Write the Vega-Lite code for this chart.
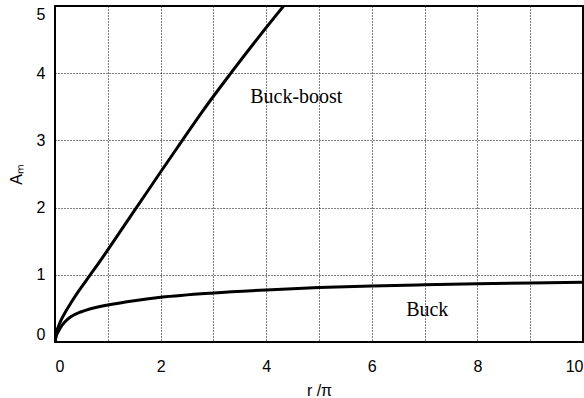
{
  "$schema": "https://vega.github.io/schema/vega-lite/v6.json",
  "width": 528,
  "height": 336,
  "autosize": {"type": "none"},
  "padding": {"left": 55, "top": 6, "right": 1, "bottom": 56},
  "background": "white",
  "config": {
    "view": {"stroke": "black", "strokeWidth": 2},
    "axis": {
      "domain": false,
      "ticks": false,
      "grid": true,
      "gridColor": "black",
      "gridOpacity": 1,
      "gridWidth": 1,
      "gridDash": [1, 2],
      "labelFont": "Liberation Sans",
      "labelFontSize": 16,
      "labelColor": "black",
      "titleFont": "Liberation Sans",
      "titleFontSize": 16,
      "titleFontWeight": "normal",
      "titleColor": "black"
    }
  },
  "datasets": {
    "curves": [
      {"series": "Buck-boost", "r": 0, "A": 0},
      {"series": "Buck-boost", "r": 0.02, "A": 0.12},
      {"series": "Buck-boost", "r": 0.05, "A": 0.2},
      {"series": "Buck-boost", "r": 0.1, "A": 0.3},
      {"series": "Buck-boost", "r": 0.2, "A": 0.45},
      {"series": "Buck-boost", "r": 0.3, "A": 0.58},
      {"series": "Buck-boost", "r": 0.45, "A": 0.76},
      {"series": "Buck-boost", "r": 0.65, "A": 0.98},
      {"series": "Buck-boost", "r": 0.85, "A": 1.2},
      {"series": "Buck-boost", "r": 1.0, "A": 1.37},
      {"series": "Buck-boost", "r": 1.25, "A": 1.66},
      {"series": "Buck-boost", "r": 1.5, "A": 1.95},
      {"series": "Buck-boost", "r": 1.75, "A": 2.24},
      {"series": "Buck-boost", "r": 2.0, "A": 2.53},
      {"series": "Buck-boost", "r": 2.35, "A": 2.93},
      {"series": "Buck-boost", "r": 2.8, "A": 3.44},
      {"series": "Buck-boost", "r": 3.33, "A": 4.0},
      {"series": "Buck-boost", "r": 3.85, "A": 4.53},
      {"series": "Buck-boost", "r": 4.33, "A": 5.0},
      {"series": "Buck", "r": 0, "A": 0},
      {"series": "Buck", "r": 0.02, "A": 0.08},
      {"series": "Buck", "r": 0.06, "A": 0.15},
      {"series": "Buck", "r": 0.1, "A": 0.21},
      {"series": "Buck", "r": 0.2, "A": 0.31},
      {"series": "Buck", "r": 0.3, "A": 0.375},
      {"series": "Buck", "r": 0.5, "A": 0.45},
      {"series": "Buck", "r": 0.75, "A": 0.51},
      {"series": "Buck", "r": 1, "A": 0.55},
      {"series": "Buck", "r": 1.5, "A": 0.615},
      {"series": "Buck", "r": 2, "A": 0.665},
      {"series": "Buck", "r": 3, "A": 0.73},
      {"series": "Buck", "r": 4, "A": 0.775},
      {"series": "Buck", "r": 5, "A": 0.81},
      {"series": "Buck", "r": 6, "A": 0.835},
      {"series": "Buck", "r": 7, "A": 0.852},
      {"series": "Buck", "r": 8, "A": 0.866},
      {"series": "Buck", "r": 9, "A": 0.878},
      {"series": "Buck", "r": 10, "A": 0.888}
    ],
    "labels": [
      {"text": "Buck-boost", "r": 4.57, "A": 3.65},
      {"text": "Buck", "r": 7.05, "A": 0.47}
    ]
  },
  "layer": [
    {
      "data": {"name": "curves"},
      "mark": {"type": "line", "color": "black", "strokeWidth": 3, "interpolate": "monotone", "clip": true},
      "encoding": {
        "x": {
          "field": "r", "type": "quantitative",
          "scale": {"domain": [0, 10], "nice": false},
          "axis": {
            "title": "r /π",
            "values": [0, 1, 2, 3, 4, 5, 6, 7, 8, 9, 10],
            "format": "d",
            "labelExpr": "datum.value % 2 === 0 ? datum.label : ''",
            "labelPadding": 16,
            "titlePadding": 8
          }
        },
        "y": {
          "field": "A", "type": "quantitative",
          "scale": {"domain": [0, 5], "nice": false},
          "axis": {
            "title": "Aₘ",
            "values": [0, 1, 2, 3, 4, 5],
            "format": "d",
            "labelFlush": true,
            "labelPadding": 10,
            "titlePadding": 12
          }
        },
        "detail": {"field": "series"}
      }
    },
    {
      "data": {"name": "labels"},
      "mark": {"type": "text", "font": "Liberation Serif", "fontSize": 20, "color": "black", "align": "center", "baseline": "middle"},
      "encoding": {
        "x": {"field": "r", "type": "quantitative"},
        "y": {"field": "A", "type": "quantitative"},
        "text": {"field": "text"}
      }
    }
  ]
}
